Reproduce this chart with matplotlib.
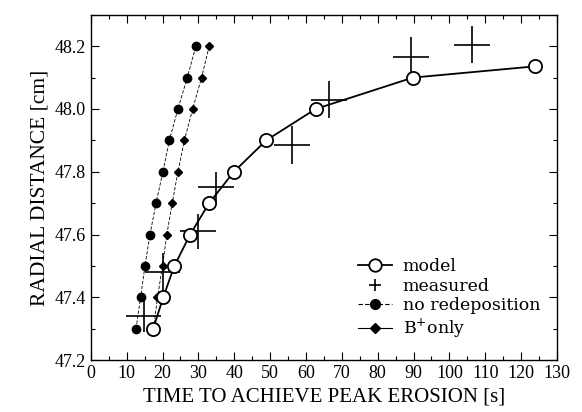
import matplotlib
matplotlib.use('Agg')
import matplotlib.pyplot as plt
from matplotlib.ticker import MultipleLocator

plt.rcParams['font.family'] = 'Liberation Serif'

# model (open circles)
model_t = [17.4, 20.2, 23.3, 27.7, 33.0, 39.9, 48.9, 62.7, 89.8, 124.0]
model_r = [47.3, 47.4, 47.5, 47.6, 47.7, 47.8, 47.9, 48.0, 48.1, 48.136]

# no redeposition (filled circles)
nored_t = [12.6, 13.9, 15.1, 16.5, 18.2, 20.1, 21.9, 24.3, 26.9, 29.3]
nored_r = [47.3, 47.4, 47.5, 47.6, 47.7, 47.8, 47.9, 48.0, 48.1, 48.2]

# B+ only (diamonds)
bplus_t = [17.5, 18.6, 20.0, 21.2, 22.7, 24.3, 26.1, 28.4, 30.9, 33.0]
bplus_r = [47.3, 47.4, 47.5, 47.6, 47.7, 47.8, 47.9, 48.0, 48.1, 48.2]

# measured with error bars
meas_t = [14.7, 20.0, 29.9, 35.0, 56.2, 66.5, 89.4, 106.4]
meas_r = [47.34, 47.48, 47.61, 47.75, 47.885, 48.03, 48.165, 48.205]
meas_terr = [5, 5, 5, 5, 5, 5, 5, 5]
meas_rerr = [0.05, 0.06, 0.055, 0.05, 0.06, 0.06, 0.065, 0.06]

fig = plt.figure(figsize=(5.82, 4.12), dpi=100)
ax = fig.add_axes([0.156, 0.126, 0.801, 0.838])

ax.plot(nored_t, nored_r, color='black', ls=(0, (4, 2)), lw=0.6,
        marker='o', markersize=6, label='no redeposition')
ax.plot(bplus_t, bplus_r, color='black', ls=(0, (4, 2)), lw=0.6,
        marker='D', markersize=4.5, label='B$^{+}$only')
ax.errorbar(meas_t, meas_r, xerr=meas_terr, yerr=meas_rerr, fmt='none',
            ecolor='black', elinewidth=1.2, capsize=0)
ax.plot(model_t, model_r, color='black', lw=1.3, marker='o', markersize=9.5,
        markerfacecolor='white', markeredgewidth=1.3, label='model')

# legend handles in the reference order
h_model, = ax.plot([], [], color='black', lw=1.3, marker='o', markersize=9,
                   markerfacecolor='white', markeredgewidth=1.3)
h_meas, = ax.plot([], [], color='black', ls='none', marker='+',
                  markersize=9, markeredgewidth=1.2)
h_nored, = ax.plot([], [], color='black', ls=(0, (4, 2)), lw=0.8,
                   marker='o', markersize=7)
h_bplus, = ax.plot([], [], color='black', lw=0.8, marker='D', markersize=5)
ax.legend([h_model, h_meas, h_nored, h_bplus],
          ['model', 'measured', 'no redeposition', 'B$^{+}$only'],
          loc='upper left', bbox_to_anchor=(0.573, 0.295), frameon=False,
          borderpad=0, borderaxespad=0,
          prop={'family': 'DejaVu Serif', 'size': 12.5},
          handlelength=1.95, handletextpad=0.63, labelspacing=0.15)

ax.set_xlim(0, 130)
ax.set_ylim(47.2, 48.3)
ax.xaxis.set_major_locator(MultipleLocator(10))
ax.xaxis.set_minor_locator(MultipleLocator(5))
ax.yaxis.set_minor_locator(MultipleLocator(0.1))
ax.set_yticks([47.2, 47.4, 47.6, 47.8, 48.0, 48.2])
ax.tick_params(which='both', direction='in', top=True, right=True,
               labelsize=13, width=0.8)
ax.tick_params(which='major', length=6)
ax.tick_params(which='minor', length=3)
for s in ax.spines.values():
    s.set_linewidth(1.0)

ax.set_xlabel('TIME TO ACHIEVE PEAK EROSION [s]', fontsize=15)
ax.set_ylabel('RADIAL DISTANCE [cm]', fontsize=15.5)

fig.savefig('out.png', dpi=100)
plt.close()
